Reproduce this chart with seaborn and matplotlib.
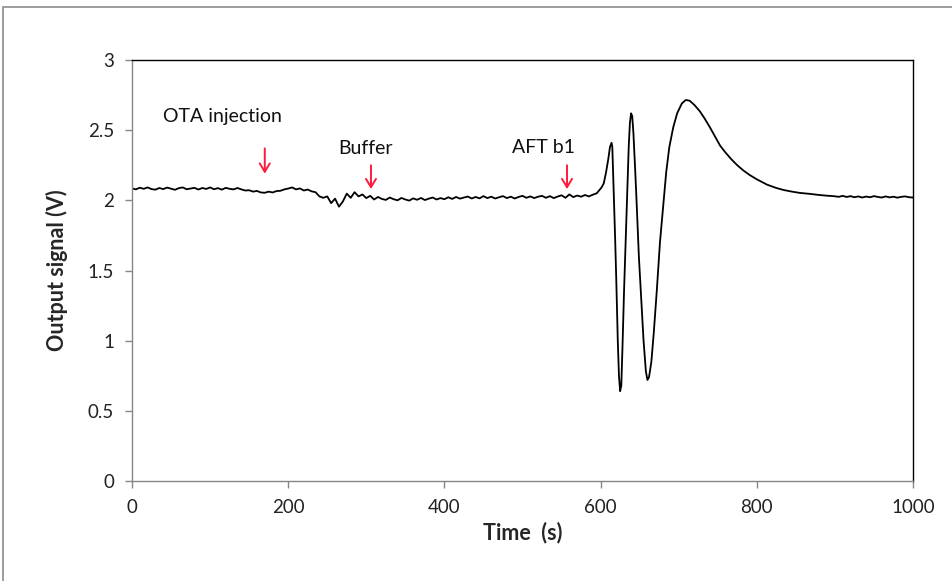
import matplotlib
matplotlib.use("Agg")
import matplotlib.pyplot as plt
import seaborn as sns
import numpy as np
import pandas as pd
from matplotlib.patches import Rectangle

# ---- data ----
base_t = list(range(0, 600, 5))
base_v = [
    2.085, 2.078, 2.090, 2.082, 2.092, 2.080, 2.076, 2.088, 2.080, 2.091,
    2.083, 2.075, 2.087, 2.092, 2.079, 2.084, 2.089, 2.077, 2.088, 2.081,
    2.092, 2.079, 2.087, 2.076, 2.089, 2.082, 2.078, 2.088,
    2.078, 2.070, 2.072, 2.062, 2.067, 2.056, 2.054, 2.062, 2.056, 2.066,
    2.068, 2.078, 2.084, 2.092, 2.078, 2.085, 2.070, 2.077, 2.064,
    2.058, 2.028, 2.018, 2.028, 1.980, 2.012, 1.955, 1.992, 2.048, 2.018,
    2.058, 2.028, 2.042,
    2.016, 2.032, 2.006, 2.024, 2.010, 2.003, 2.020, 2.008, 2.000, 2.017,
    2.006, 1.998, 2.014, 2.004, 2.017, 2.002, 2.012, 2.020, 2.006, 2.016,
    2.008, 2.022, 2.010, 2.024, 2.012, 2.020, 2.027, 2.013, 2.024, 2.014,
    2.030, 2.016, 2.026, 2.013, 2.022, 2.030, 2.016, 2.026, 2.013, 2.024,
    2.032, 2.018, 2.028, 2.016, 2.026, 2.032, 2.018, 2.030, 2.016, 2.027,
    2.036, 2.018, 2.042, 2.023, 2.034, 2.026, 2.038, 2.028, 2.040, 2.050,
]
peak_t = [598, 601, 604, 607, 610, 612, 614, 615, 616, 617, 618.5, 620, 622,
          623.5, 625, 626.5, 628, 630, 632, 634, 636, 637.5, 639, 640.5, 642,
          644, 646, 649, 652, 655, 658, 660, 662, 665, 668, 672, 676, 680,
          684, 688, 693, 698, 704, 709, 714, 720, 727, 733, 740, 747, 753,
          760, 767, 775, 783, 791, 800, 813, 825, 834, 845, 855, 868, 880, 890,
          898, 905, 910, 915, 920, 925, 930, 935, 940, 945, 950, 955, 960,
          965, 970, 975, 980, 985, 990, 995, 1000]
peak_v = [2.07, 2.09, 2.12, 2.20, 2.30, 2.38, 2.41, 2.38, 2.20, 2.00, 1.75,
          1.45, 1.00, 0.75, 0.64, 0.68, 0.95, 1.35, 1.70, 2.05, 2.38, 2.55,
          2.62, 2.60, 2.48, 2.25, 2.00, 1.60, 1.30, 1.00, 0.78, 0.72, 0.74,
          0.85, 1.05, 1.36, 1.70, 1.95, 2.20, 2.38, 2.52, 2.62, 2.69, 2.715,
          2.71, 2.68, 2.635, 2.585, 2.52, 2.45, 2.39, 2.34, 2.295, 2.25,
          2.212, 2.18, 2.15, 2.112, 2.088, 2.074, 2.062, 2.053, 2.046, 2.038,
          2.033, 2.030, 2.025, 2.032, 2.024, 2.030, 2.022, 2.028, 2.020,
          2.027, 2.022, 2.030, 2.024, 2.020, 2.028, 2.021, 2.026, 2.019,
          2.025, 2.028, 2.022, 2.020]

time_s = base_t + peak_t
signal_v = base_v + peak_v

ann_labels = ["OTA injection", "Buffer", "AFT b1"]
ann_text_x = [40, 264, 487]
ann_text_y = [2.595, 2.37, 2.38]
ann_arrow_x = [170, 306, 557]
ann_arrow_top = [2.37, 2.25, 2.25]
ann_arrow_tip = [2.19, 2.08, 2.08]

x_ticks = [0, 200, 400, 600, 800, 1000]
y_ticks = [0, 0.5, 1, 1.5, 2, 2.5, 3]

# ---- plot ----
sns.set_theme(style="white")
plt.rcParams["font.family"] = ["Lato", "DejaVu Sans"]

fig = plt.figure(figsize=(9.53, 5.81), dpi=100)
ax = fig.add_axes([132/953, 1-481/581, (913-132)/953, (481-60)/581])

df = pd.DataFrame({"Time": time_s, "Signal": signal_v})
sns.lineplot(data=df, x="Time", y="Signal", ax=ax, color="black",
             linewidth=1.3, estimator=None, sort=False)

ax.set_xlim(0, 1000)
ax.set_ylim(0, 3)
ax.set_xticks(x_ticks)
ax.set_yticks(y_ticks)
ax.set_xticklabels([str(t) for t in x_ticks])
ax.set_yticklabels(["0", "0.5", "1", "1.5", "2", "2.5", "3"])
ax.tick_params(axis="both", which="major", direction="out", length=5,
               width=1, color="#868686", labelsize=13.5, pad=8,
               bottom=True, left=True, labelcolor="#222222")

for side in ["left", "bottom"]:
    ax.spines[side].set_color("#868686")
    ax.spines[side].set_linewidth(1)
for side in ["top", "right"]:
    ax.spines[side].set_color("black")
    ax.spines[side].set_linewidth(1)

ax.set_xlabel("Time  (s)", fontsize=15.5, fontweight="bold", labelpad=4)
ax.set_ylabel("Output signal (V)", fontsize=15.5, fontweight="bold", labelpad=14)

for lab, tx, ty, axx, a0, a1 in zip(ann_labels, ann_text_x, ann_text_y,
                                    ann_arrow_x, ann_arrow_top, ann_arrow_tip):
    ax.text(tx, ty, lab, fontsize=14, ha="left", va="center", color="#111111")
    ax.annotate("", xy=(axx, a1), xytext=(axx, a0),
                arrowprops=dict(arrowstyle="->,head_length=0.5,head_width=0.3",
                                color="#ff1a3c", lw=1.4,
                                shrinkA=0, shrinkB=0))

# outer chart frame
fig.patches.append(Rectangle((3/953, -0.01), 1.0, 1 - 7/581 + 0.01,
                             transform=fig.transFigure, fill=False,
                             edgecolor="#8c8c8c", linewidth=1.2))

fig.savefig("out.png", dpi=100)
